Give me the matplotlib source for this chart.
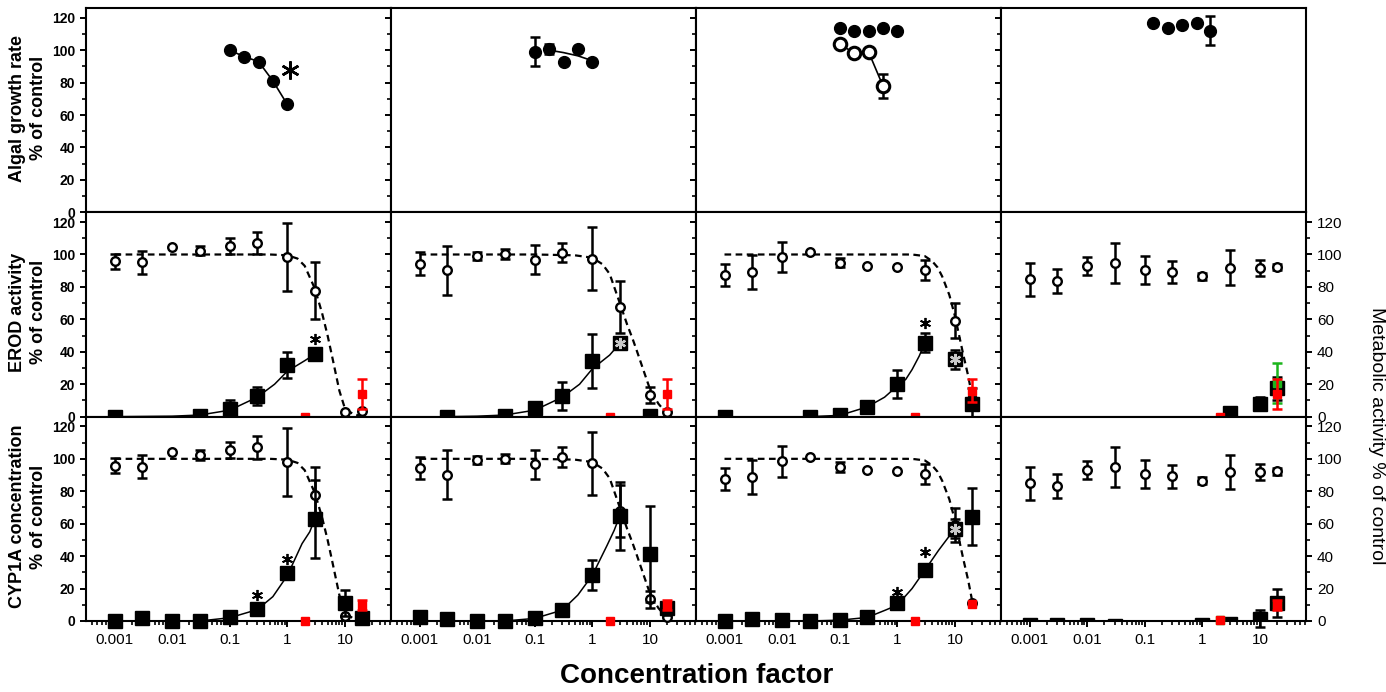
import matplotlib.pyplot as plt
import numpy as np
from matplotlib.ticker import MultipleLocator, LogLocator, NullFormatter

plt.rcParams['font.family'] = ['Liberation Sans', 'DejaVu Sans']

# concentration factors
conc = [0.001, 0.003, 0.01, 0.03, 0.1, 0.3, 1, 3, 10, 20]
algal_conc = [0.1, 0.178, 0.316, 0.562, 1.0]
algal4_conc = [0.14, 0.25, 0.45, 0.8, 1.35]
red_x = [2, 20]
xticks = [0.001, 0.01, 0.1, 1, 10]
xtick_labels = ['0.001', '0.01', '0.1', '1', '10']
row_labels = ['Algal growth rate\n% of control', 'EROD activity\n% of control',
              'CYP1A concentration\n% of control']

# --- top row: algal growth rate
algal1 = [100, 96, 93, 81, 66.5]
algal2 = [99, 100.5, 92.5, 100.5, 92.5]
algal2_err = [9, 3, 0, 0, 0]
algal2_fit_x = [0.178, 0.316, 0.562, 1.0]
algal2_fit = [100, 98.5, 96.5, 93.5]
algal3_a = [113.5, 112, 112, 113.5, 112]
algal3_b = [104, 98, 99, 78]
algal3_b_err = [0, 0, 0, 7.5]
algal4 = [116.5, 113.5, 115.5, 116.5, 112]
algal4_err = [0, 0, 0, 0, 9]

# --- metabolic activity (open circles, right axis), same in rows 2 and 3
met1 = [95.7, 95.1, 104.5, 102.4, 105.3, 107, 98.2, 77.7, 3, 3.5]
met1_err = [4.7, 7, 0, 3, 5, 7, 21, 17.5, 0, 0]
met2 = [94.3, 90.2, 99.2, 100.2, 96.7, 101.2, 97.3, 67.7, 13.3, 2.7]
met2_err = [7, 15, 2.5, 3, 9, 6, 19.5, 16, 5, 0]
met3 = [87.5, 89, 98.4, 101.4, 95, 93, 92.2, 90.6, 59.3, 11]
met3_err = [6.7, 10.4, 9.4, 0, 3, 0, 0, 6.3, 10.5, 0]
met4 = [84.8, 83.4, 93, 95, 90.6, 89.2, 86.5, 91.8, 91.8, 92.2]
met4_err = [10.2, 7.4, 5.4, 12.3, 8.6, 7, 2, 10.7, 5, 2]

met_fit_x = [0.001, 0.01, 0.1, 0.5, 1, 1.5, 2, 3, 4, 5, 6, 8, 10, 14, 17, 20]
met_fit1 = [100, 100, 100, 100, 99.5, 97.5, 93, 79, 64, 50, 37, 16, 5, 1.5, 0.8, 0.5]
met_fit2 = [100, 100, 100, 99.5, 98, 94, 88, 70, 57, 48, 40, 27, 17, 8, 4.5, 2.6]
met_fit3 = [100, 100, 100, 100, 100, 100, 99.8, 99, 96, 92, 86.5, 75, 62, 38, 25, 12]

# --- EROD activity (filled squares)
erod1_x = [0.001, 0.03, 0.1, 0.3, 1, 3]
erod1 = [0, 0.5, 5, 12.5, 31.7, 38.4]
erod1_err = [0, 0, 5.5, 5.5, 8, 0]
erod2_x = [0.003, 0.03, 0.1, 0.3, 1, 3, 10]
erod2 = [0, 0.6, 5.1, 12.5, 34.2, 45.2, 0.6]
erod2_err = [0, 0, 3, 8.6, 16.7, 0, 0]
erod3_x = [0.001, 0.03, 0.1, 0.3, 1, 3, 10, 20]
erod3 = [0, 0, 0.8, 5.7, 20, 45.6, 35.4, 7.8]
erod3_err = [0, 0, 0, 0, 8.5, 6, 6, 10]
erod4_x = [3, 10, 20]
erod4 = [2.2, 8, 17.4]
erod4_err = [0, 4, 7]

erod_fit1_x = [0.001, 0.01, 0.03, 0.1, 0.3, 0.6, 1, 2, 3]
erod_fit1 = [0, 0.3, 1, 4, 12, 20, 28, 34.5, 38.5]
erod_fit2_x = [0.003, 0.01, 0.03, 0.1, 0.3, 0.6, 1, 2, 3]
erod_fit2 = [0, 0.3, 1, 4, 12, 20, 29.5, 38, 45.2]
erod_fit3_x = [0.03, 0.1, 0.3, 0.6, 1, 1.4, 1.8, 2.4, 3]
erod_fit3 = [0, 0.8, 6, 12, 19, 23, 29, 37.4, 45.6]

erod_red = [[0, 14], [0, 14], [0, 16], [0, 14]]
erod_red_err = [[0, 9.2], [0, 9], [0, 7], [0, 9.4]]

# --- CYP1A concentration (filled squares)
cyp1 = [0, 1.6, 0, 0, 2.2, 7.4, 29.9, 63, 11.2, 1.6]
cyp1_err = [0, 0, 0, 0, 0, 0, 0, 24, 8, 0]
cyp2 = [2.7, 1, 0, 0, 1.6, 6.7, 28.6, 65, 41.5, 7.8]
cyp2_err = [0, 0, 0, 0, 0, 0, 9.2, 21, 29.5, 4]
cyp3 = [0, 1, 0.5, 0, 0.5, 2.2, 10.8, 31.3, 56.9, 64.4]
cyp3_err = [0, 0, 0, 0, 0, 0, 0, 0, 6, 17.7]
cyp4_x = [0.001, 0.003, 0.01, 0.03, 1, 3, 10, 20]
cyp4 = [-2.5, -2.5, -2.5, -3, -2.5, -2, 1.5, 11]
cyp4_err = [0, 0, 0, 0, 0, 0, 5, 8.5]

cyp_fit1_x = [0.03, 0.1, 0.3, 0.56, 1, 1.8, 2.45, 3]
cyp_fit1 = [0, 2, 7, 15, 28, 47.7, 55, 63]
cyp_fit2_x = [0.03, 0.1, 0.3, 0.56, 1, 1.8, 2.4, 3]
cyp_fit2 = [0, 1.6, 6.7, 16, 28.2, 46.6, 56, 65]
cyp_fit3_x = [0.03, 0.1, 0.3, 0.62, 1, 1.8, 3, 5.2, 10]
cyp_fit3 = [0, 0.5, 2.2, 6.7, 9.8, 20, 31.3, 43.6, 57]

cyp_red = [[0, 9.8], [0, 9.8], [0, 10.4], [0.5, 9.8]]
cyp_red_err = [[0, 3], [0, 3], [0, 0], [0, 3]]

# green points, column 4 only
green_erod = [21]
green_erod_err = [12.3]
green_cyp = [0.5, 9.8]

# asterisks (x, y)
star_black = {(1, 0): [(3, 48)], (1, 2): [(3, 58)],
              (2, 0): [(0.3, 16), (1, 38.5)], (2, 2): [(1, 18), (3, 42.5)]}
star_grey = {(1, 1): [(3, 45.2)], (1, 2): [(10, 35.4)], (2, 2): [(10, 56.9)]}
star_top = (1.1, 87.5)


def bars(ax, x, y, e, color='k', z=2):
    x, y, e = np.asarray(x, float), np.asarray(y, float), np.asarray(e, float)
    m = e > 0
    if m.any():
        ax.errorbar(x[m], y[m], yerr=e[m], fmt='none', ecolor=color, elinewidth=1.8,
                    capsize=3.3, capthick=1.8, zorder=z, clip_on=False)


fig, axes = plt.subplots(3, 4, sharex=True, sharey=True, figsize=(13.86, 6.92), dpi=100)
plt.subplots_adjust(left=86 / 1386, right=1306 / 1386, top=1 - 8 / 692,
                    bottom=1 - 621 / 692, hspace=0, wspace=0)

for r in range(3):
    for c in range(4):
        ax = axes[r, c]
        ax.set_xscale('log')
        ax.set_xlim(3.2e-4, 63)
        ax.set_ylim(0, 126)
        ax.set_xticks(xticks)
        ax.set_xticklabels(xtick_labels)
        ax.xaxis.set_minor_locator(LogLocator(base=10, subs=np.arange(2, 10)))
        ax.xaxis.set_minor_formatter(NullFormatter())
        ax.set_yticks(range(0, 121, 20))
        ax.yaxis.set_minor_locator(MultipleLocator(10))
        for s in ax.spines.values():
            s.set_linewidth(1.5)
        ax.tick_params(axis='x', which='both', direction='out', bottom=True, top=False,
                       labelbottom=(r == 2), labelsize=11, pad=4)
        ax.tick_params(axis='y', which='both', direction='out', left=True,
                       right=(r > 0), labelleft=(c == 0), labelright=(r > 0 and c == 3),
                       labelsize=11)
        ax.tick_params(which='major', length=4.5, width=1.4)
        ax.tick_params(which='minor', length=2.8, width=1.2)
        if c == 0:
            for t in ax.get_yticklabels():
                t.set_fontweight('bold')
                t.set_fontsize(10)

fc = dict(color='k', ms=8.5, zorder=4, clip_on=False)

# top row
ax = axes[0, 0]
ax.plot(algal_conc, algal1, '-', color='k', lw=1.2, zorder=3)
ax.plot(algal_conc, algal1, 'o', **fc)
ax.plot(*star_top, marker=(6, 2, 0), color='k', ms=13, mew=1.8, zorder=5)

ax = axes[0, 1]
ax.plot(algal2_fit_x, algal2_fit, '-', color='k', lw=1.2, zorder=3)
bars(ax, algal_conc, algal2, algal2_err)
ax.plot(algal_conc, algal2, 'o', **fc)

ax = axes[0, 2]
ax.plot(algal_conc, algal3_a, 'o', **fc)
ax.plot(algal_conc[:4], algal3_b, '-', color='k', lw=1.2, zorder=3)
bars(ax, algal_conc[:4], algal3_b, algal3_b_err)
ax.plot(algal_conc[:4], algal3_b, 'o', mfc='white', mec='k', mew=2.2, ms=9, zorder=4)

ax = axes[0, 3]
bars(ax, algal4_conc, algal4, algal4_err)
ax.plot(algal4_conc, algal4, 'o', **fc)

met = [met1, met2, met3, met4]
met_err = [met1_err, met2_err, met3_err, met4_err]
met_fit = [met_fit1, met_fit2, met_fit3, None]

sq_x = [[erod1_x, erod2_x, erod3_x, erod4_x], [conc, conc, conc, cyp4_x]]
sq_y = [[erod1, erod2, erod3, erod4], [cyp1, cyp2, cyp3, cyp4]]
sq_e = [[erod1_err, erod2_err, erod3_err, erod4_err], [cyp1_err, cyp2_err, cyp3_err, cyp4_err]]
fit_x = [[erod_fit1_x, erod_fit2_x, erod_fit3_x, None], [cyp_fit1_x, cyp_fit2_x, cyp_fit3_x, None]]
fit_y = [[erod_fit1, erod_fit2, erod_fit3, None], [cyp_fit1, cyp_fit2, cyp_fit3, None]]
red_y = [erod_red, cyp_red]
red_e = [erod_red_err, cyp_red_err]

for i, r in enumerate([1, 2]):
    for c in range(4):
        ax = axes[r, c]
        # open circles: metabolic activity
        if met_fit[c] is not None:
            ax.plot(met_fit_x, met_fit[c], color='k', lw=1.6, ls=(0, (3, 2)), zorder=3)
        bars(ax, conc, met[c], met_err[c], z=3)
        ax.plot(conc, met[c], 'o', mfc='white', mec='k', mew=1.7, ms=6.2, zorder=4,
                clip_on=False)
        # filled squares
        if fit_x[i][c] is not None:
            ax.plot(fit_x[i][c], fit_y[i][c], '-', color='k', lw=1.1, zorder=5)
        bars(ax, sq_x[i][c], sq_y[i][c], sq_e[i][c], z=5)
        ax.plot(sq_x[i][c], sq_y[i][c], 's', color='k', ms=9.5, zorder=6,
                clip_on=(c == 3 and r == 2))
        # green / red controls
        if c == 3:
            if r == 1:
                bars(ax, red_x[1:], green_erod, green_erod_err, color='#1cb51c', z=7)
                ax.plot(red_x[1:], green_erod, 's', color='#1cb51c', ms=5.8, zorder=7,
                        clip_on=False)
            else:
                ax.plot(red_x, green_cyp, 's', color='#1cb51c', ms=6.4, zorder=7,
                        clip_on=False)
        bars(ax, red_x, red_y[i][c], red_e[i][c], color='#ff0000', z=8)
        ax.plot(red_x, red_y[i][c], 's', color='#ff0000', ms=5.8, zorder=8, clip_on=False)
        for (sx, sy) in star_black.get((r, c), []):
            ax.plot(sx, sy, marker=(6, 2, 0), color='k', ms=8, mew=1.3, zorder=9)
        for (sx, sy) in star_grey.get((r, c), []):
            ax.plot(sx, sy, marker=(6, 2, 0), color='#c8c8c8', ms=8, mew=1.6, zorder=9)

for r in range(3):
    y = 1 - ((8 + 204.3 * r) + 100) / 692
    fig.text(28 / 1386, y, row_labels[r], rotation=90, ha='center', va='center',
             fontsize=13, fontweight='bold', linespacing=1.25)

fig.text(1376 / 1386, 1 - 436 / 692, 'Metabolic activity % of control', rotation=270,
         ha='center', va='center', fontsize=14)
fig.text(697 / 1386, 1 - 676 / 692, 'Concentration factor', ha='center', va='center',
         fontsize=20, fontweight='bold')

fig.savefig('out.png', dpi=100)
